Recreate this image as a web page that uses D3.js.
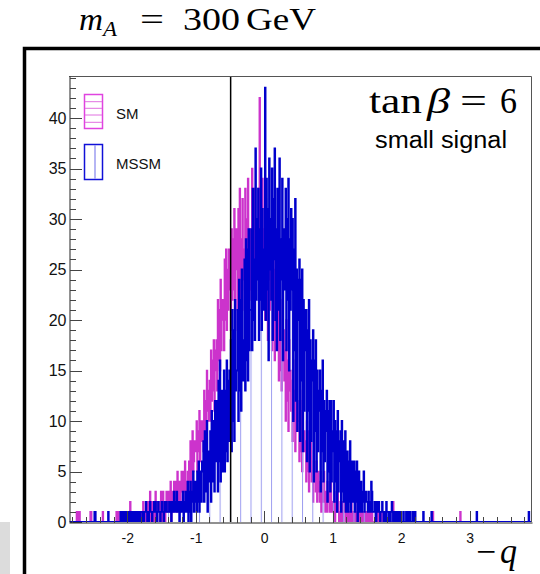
<!DOCTYPE html>
<html><head><meta charset="utf-8">
<script src="https://cdn.jsdelivr.net/npm/d3@7"></script>
<style>body{margin:0;background:#fff}svg{display:block}</style>
</head><body>
<script>
// ---------------- data ----------------
const binWidth = 0.01;
const gridStart = -2.84, gridEnd = 3.92;
const mainStart = -2.0;   // first bin of the arrays below
// MSSM counts, bins of 0.01 from -2.0 to 2.0 (10 bins per row)
const mssmCounts = [
 1,0,1,1,0,1,0,1,1,0,
 0,1,1,0,1,1,0,1,0,1,
 1,1,0,1,0,1,1,2,1,0,
 1,0,1,2,1,1,0,1,1,2,
 1,2,1,0,1,2,1,1,0,1,
 2,1,1,0,2,1,1,2,1,1,
 1,2,1,2,0,1,2,1,3,1,
 2,1,3,1,2,1,0,2,1,2,
 1,3,0,2,1,3,1,2,4,0,
 3,1,4,0,3,2,5,1,2,4,
 4,1,5,2,6,1,4,5,2,6,
 5,8,2,9,3,6,10,1,7,4,
 6,9,2,11,4,7,10,3,12,6,
 8,12,3,14,6,16,4,11,13,5,
 10,15,5,13,7,16,6,14,8,15,
 12,18,7,21,10,19,8,22,13,15,
 15,21,10,24,13,22,11,25,16,14,
 18,26,13,28,16,27,14,29,17,21,
 21,29,17,33,20,26,18,37,22,30,
 24,33,18,29,22,35,19,31,25,21,
 27,43,20,34,23,31,16,36,25,30,
 22,35,18,32,26,37,20,29,17,33,
 30,21,36,18,28,24,34,16,29,23,
 26,33,17,30,22,34,15,28,21,31,
 23,30,10,27,17,32,12,25,9,24,
 20,26,8,24,14,25,7,22,11,21,
 17,21,6,19,11,22,5,18,8,16,
 14,19,4,16,9,18,5,15,7,13,
 11,15,3,13,7,16,4,12,6,11,
 9,13,2,11,5,12,3,12,4,9,
 7,12,2,10,4,9,1,11,3,8,
 6,9,1,10,3,8,2,7,9,1,
 4,7,1,6,2,8,1,4,6,2,
 3,6,1,5,2,6,0,4,5,1,
 2,4,1,3,2,5,1,2,3,2,
 2,1,3,1,2,1,4,3,1,1,
 1,2,1,0,2,1,1,2,1,0,
 1,1,2,1,0,1,1,0,2,1,
 1,0,1,1,0,1,2,1,0,1,
 0,1,0,1,1,0,1,0,0,1
];
// SM counts, same bins
const smCounts = [
 0,0,1,0,2,0,0,1,0,0,
 1,0,0,0,1,0,0,1,0,0,
 0,1,0,2,1,0,1,0,0,2,
 2,0,1,3,0,1,2,0,1,0,
 1,3,0,1,2,0,2,1,0,3,
 2,0,3,1,2,0,1,3,2,1,
 3,1,2,4,0,2,3,1,4,2,
 2,4,1,5,3,2,4,1,3,5,
 4,2,5,3,6,2,4,3,5,2,
 6,4,8,3,7,9,5,6,8,7,
 8,10,5,9,7,11,6,9,10,8,
 10,7,13,9,12,8,15,11,13,10,
 14,10,17,12,16,13,18,11,17,15,
 18,13,22,16,21,15,24,17,20,22,
 22,17,26,20,27,19,25,21,27,23,
 24,19,29,22,28,23,31,21,27,29,
 25,19,31,22,33,20,28,23,32,24,
 27,21,33,24,30,22,34,26,29,23,
 29,22,35,26,31,24,33,27,30,25,
 26,33,22,42,25,30,21,34,27,29,
 27,20,32,23,29,18,31,24,26,21,
 24,17,28,20,25,16,27,19,23,18,
 21,14,24,15,20,13,22,16,19,14,
 17,10,20,12,16,9,18,13,15,11,
 14,8,16,10,13,7,15,9,12,10,
 10,6,13,7,11,5,12,8,9,7,
 8,4,10,5,9,3,7,6,8,4,
 6,2,7,4,5,3,6,2,5,3,
 4,2,5,1,4,3,2,5,3,1,
 3,1,4,2,3,1,2,4,1,2,
 2,1,3,0,2,1,2,3,1,0,
 1,2,0,1,2,0,1,2,1,0,
 1,0,2,1,0,1,0,2,1,0,
 0,1,1,0,1,0,2,0,1,0,
 1,0,0,1,0,1,0,0,1,0,
 0,1,0,0,1,0,0,1,0,0,
 0,0,1,0,0,0,1,0,0,0,
 0,1,0,0,0,1,0,0,0,0,
 0,0,1,0,0,0,0,0,2,0,
 0,0,0,1,0,0,0,0,0,0
];
// isolated single entries outside [-2, 2]
const mssmTail = [-2.48, -2.47, -2.28, -2.10, -2.08, -2.06, -2.04, -2.02, 2.03, 2.07, 2.10, 2.13, 2.17, 2.20, 2.32, 2.44, 3.10, 3.86];
const smTail = [-2.74, -2.73, -2.70, -2.54, -2.53, -2.36, -2.16, -2.13, 2.09, 2.18, 2.46, 2.86];
const cutValue = -0.49;
const yMajor = [0,5,10,15,20,25,30,35,40];
const xMajor = [-2,-1,0,1,2,3];
const legendItems = ["SM","MSSM"];

// ---------------- drawing ----------------
const W = 540, H = 574;
const svg = d3.select("body").append("svg").attr("width", W).attr("height", H);
const x = d3.scaleLinear().domain([-2.85, 3.91]).range([69, 532]);
const y = d3.scaleLinear().domain([0, 44.16]).range([522, 76]);

const defs = svg.append("defs");
const vh = defs.append("pattern").attr("id","vhatch").attr("patternUnits","userSpaceOnUse")
  .attr("x",240.2).attr("y",0).attr("width",10.3).attr("height",10);
vh.append("rect").attr("x",0).attr("y",0).attr("width",1).attr("height",10).attr("fill","#9d9df0");
defs.append("clipPath").attr("id","plotclip").append("rect")
  .attr("x",69).attr("y",76).attr("width",463).attr("height",446);

// outer decorations
svg.append("rect").attr("x",0).attr("y",522).attr("width",10).attr("height",52).attr("fill","#dcdcdc");
svg.append("path").attr("d","M24.5,574V48.5H540").attr("fill","none").attr("stroke","#000").attr("stroke-width",3.5);

function buildCounts(main, tail){
  const n = Math.round((gridEnd-gridStart)/binWidth);
  const c = new Array(n).fill(0);
  const off = Math.round((mainStart-gridStart)/binWidth);
  main.forEach((v,i)=>{ c[off+i] += v; });
  tail.forEach(t=>{ c[Math.round((t-gridStart)/binWidth)] += 1; });
  return c;
}
function stepPath(c){
  const pts = [[x(gridStart), y(0)]];
  c.forEach((v,i)=>{
    const a = x(gridStart+i*binWidth), b = x(gridStart+(i+1)*binWidth);
    pts.push([a, y(v)], [b, y(v)]);
  });
  pts.push([x(gridEnd), y(0)]);
  return d3.line()(pts);
}
const plot = svg.append("g").attr("clip-path","url(#plotclip)");
const smC = buildCounts(smCounts, smTail);
const msC = buildCounts(mssmCounts, mssmTail);
plot.append("path").attr("d", stepPath(smC)).attr("fill","none").attr("stroke","#cc33cc").attr("stroke-width",1.7);
plot.append("path").attr("d", stepPath(msC)).attr("fill","url(#vhatch)").attr("stroke","#0000cc").attr("stroke-width",1.8);

// cut line
svg.append("line").attr("x1",x(cutValue)).attr("x2",x(cutValue)).attr("y1",76).attr("y2",522)
  .attr("stroke","#000").attr("stroke-width",1.5);

// frame top/right
svg.append("path").attr("d","M69,76.5H531.5V522").attr("fill","none").attr("stroke","#555").attr("stroke-width",1);

// axes
const yMinor = d3.range(1,45).filter(v=>v%5!==0);
const yAx = svg.append("g").attr("transform","translate(69.5,0)");
yAx.call(d3.axisLeft(y).tickValues(yMajor).tickSize(-12).tickSizeOuter(0).tickPadding(3).tickFormat(d=>String(d)));
const yAxm = svg.append("g").attr("transform","translate(69.5,0)");
yAxm.call(d3.axisLeft(y).tickValues(yMinor).tickSize(-6).tickSizeOuter(0).tickFormat(""));
yAxm.select(".domain").remove();
const xMinor = d3.range(-14,20).map(v=>v*0.2).filter(v=>Math.abs(v-Math.round(v))>1e-6);
const xAx = svg.append("g").attr("transform","translate(0,522.5)");
xAx.call(d3.axisBottom(x).tickValues(xMajor).tickSize(-12).tickSizeOuter(0).tickPadding(11).tickFormat(d=>String(d)));
const xAxm = svg.append("g").attr("transform","translate(0,522.5)");
xAxm.call(d3.axisBottom(x).tickValues(xMinor).tickSize(-6).tickSizeOuter(0).tickFormat(""));
xAxm.select(".domain").remove();
svg.selectAll(".domain").attr("stroke","#222");
svg.selectAll(".tick line").attr("stroke","#444").attr("shape-rendering","crispEdges");
yAx.selectAll("text").attr("font-family","Liberation Sans, Arial, sans-serif").attr("font-size",16).attr("fill","#111");
xAx.selectAll("text").attr("font-family","Liberation Sans, Arial, sans-serif").attr("font-size",14).attr("fill","#111");

// legend
const lg = svg.append("g");
lg.append("rect").attr("x",84.5).attr("y",94.5).attr("width",18).attr("height",34).attr("fill","none").attr("stroke","#e044e0").attr("stroke-width",1.5);
[101.7,108.3,115,122.3].forEach(v=>lg.append("line").attr("x1",85).attr("x2",102).attr("y1",v).attr("y2",v).attr("stroke","#e070e0").attr("stroke-width",1));
lg.append("rect").attr("x",84.5).attr("y",144.5).attr("width",18).attr("height",35).attr("fill","none").attr("stroke","#1010d8").attr("stroke-width",1.5);
lg.append("line").attr("x1",95).attr("x2",95).attr("y1",145).attr("y2",179).attr("stroke","#9d9df0").attr("stroke-width",1.5);
lg.selectAll("text.lg").data(legendItems).enter().append("text")
  .attr("x",116).attr("y",(d,i)=>119+i*50).text(d=>d)
  .attr("font-family","Liberation Sans, Arial, sans-serif").attr("font-size",15).attr("fill","#111");

// texts
const serif = "Liberation Serif, Times New Roman, serif";
function t(str, xx, yy, size, len, italic){
  const e = svg.append("text").attr("x",xx).attr("y",yy).text(str)
    .attr("font-family",serif).attr("font-size",size).attr("fill","#000");
  if (italic) e.attr("font-style","italic");
  if (len) e.attr("textLength",len).attr("lengthAdjust","spacingAndGlyphs");
  return e;
}
t("m", 79, 30, 31, 24, true);
t("A", 103, 36, 21, 14, true);
t("=", 140, 30, 31, 24, false);
t("300", 183, 30, 31, 57, false);
t("GeV", 246, 30, 31, 70, false);

t("tan", 369, 113, 36, 53, false);
t("β", 427, 113, 36, 23, true);
t("=", 460, 113, 36, 27, false);
t("6", 500, 113, 36, 17, false);

svg.append("text").attr("x",375).attr("y",148).text("small signal")
  .attr("font-family","Liberation Sans, Arial, sans-serif").attr("font-size",23).attr("fill","#000")
  .attr("textLength",132).attr("lengthAdjust","spacingAndGlyphs");

t("\u2212", 476, 563, 34, 20, false);
t("q", 500, 563, 36, 17, true);
</script></body></html>
